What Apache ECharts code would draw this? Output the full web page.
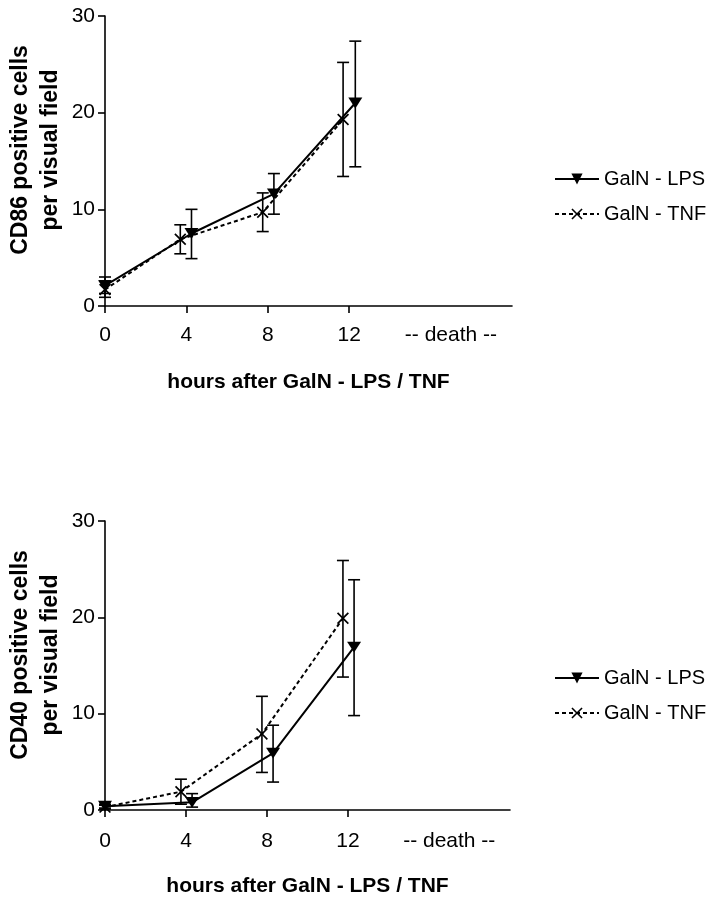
<!DOCTYPE html>
<html>
<head>
<meta charset="utf-8">
<script src="https://cdn.jsdelivr.net/npm/echarts@6/dist/echarts.min.js"></script>
<style>
html,body{margin:0;padding:0;background:#fff;}
#c{width:711px;height:900px;}
</style>
</head>
<body>
<div id="c"></div>
<script>
// ---- data ----
const xTicks = [0, 4, 8, 12];
const deathPos = 17;
const seriesNames = ['GalN - LPS', 'GalN - TNF'];

// Top panel: CD86
const cd86LpsX  = [0, 4.25, 8.3, 12.3];
const cd86LpsY  = [2.1, 7.5, 11.6, 21.0];
const cd86LpsLo = [1.3, 4.9, 9.5, 14.4];
const cd86LpsHi = [3.0, 10.0, 13.7, 27.4];
const cd86TnfX  = [0, 3.7, 7.75, 11.7];
const cd86TnfY  = [1.7, 6.9, 9.7, 19.3];
const cd86TnfLo = [0.9, 5.4, 7.7, 13.4];
const cd86TnfHi = [2.6, 8.4, 11.7, 25.2];

// Bottom panel: CD40
const cd40LpsX  = [0, 4.3, 8.3, 12.3];
const cd40LpsY  = [0.4, 0.8, 5.9, 16.9];
const cd40LpsLo = [0.2, 0.3, 2.9, 9.8];
const cd40LpsHi = [0.6, 1.7, 8.8, 23.9];
const cd40TnfX  = [0, 3.75, 7.75, 11.75];
const cd40TnfY  = [0.3, 1.9, 7.9, 19.9];
const cd40TnfLo = [0.1, 0.6, 3.9, 13.8];
const cd40TnfHi = [0.5, 3.2, 11.8, 25.9];

const yTitles = ['CD86 positive cells\nper visual field', 'CD40 positive cells\nper visual field'];
const xTitle = 'hours after GalN - LPS / TNF';
const deathLabel = '-- death --';

// ---- chart ----
const FONT = "'Liberation Sans', Arial, Helvetica, sans-serif";
const triDown = 'path://M0,0 L10,0 L5,9 Z';
const xMark = 'path://M0,1 L1,0 L5,4 L9,0 L10,1 L6,5 L10,9 L9,10 L5,6 L1,10 L0,9 L4,5 Z';

function pairs(xs, ys) { return xs.map((x, i) => [x, ys[i]]); }
function triples(xs, lo, hi) { return xs.map((x, i) => [x, lo[i], hi[i]]); }

function errRender(params, api) {
  const x = api.value(0);
  const lo = api.coord([x, api.value(1)]);
  const hi = api.coord([x, api.value(2)]);
  const w = 6;
  const st = { stroke: '#000', lineWidth: 1.6 };
  return {
    type: 'group',
    children: [
      { type: 'line', shape: { x1: lo[0], y1: lo[1], x2: hi[0], y2: hi[1] }, style: st },
      { type: 'line', shape: { x1: lo[0] - w, y1: lo[1], x2: lo[0] + w, y2: lo[1] }, style: st },
      { type: 'line', shape: { x1: hi[0] - w, y1: hi[1], x2: hi[0] + w, y2: hi[1] }, style: st }
    ]
  };
}

function xAxisDef(gi, labelMargin) {
  return {
    gridIndex: gi, type: 'value', min: 0, max: 20,
    axisLine: { show: true, onZero: false, lineStyle: { color: '#000', width: 1.6 } },
    axisTick: { show: true, customValues: xTicks, length: 7, lineStyle: { color: '#000', width: 1.6 } },
    axisLabel: {
      customValues: xTicks.concat([deathPos]),
      formatter: v => (v === deathPos ? deathLabel : String(v)),
      color: '#000', fontSize: 21, fontFamily: FONT, margin: labelMargin
    },
    splitLine: { show: false },
    name: xTitle, nameLocation: 'middle', nameGap: 66,
    nameTextStyle: { color: '#000', fontSize: 21, fontWeight: 'bold', fontFamily: FONT }
  };
}
function yAxisDef(gi) {
  return {
    gridIndex: gi, type: 'value', min: 0, max: 30, interval: 10,
    axisLine: { show: true, lineStyle: { color: '#000', width: 1.6 } },
    axisTick: { show: true, length: 7, lineStyle: { color: '#000', width: 1.6 } },
    axisLabel: { color: '#000', fontSize: 21, fontFamily: FONT, margin: 10 },
    splitLine: { show: false }
  };
}

function lineSeries(name, gi, xs, ys, tnf) {
  return {
    name: name, type: 'line', xAxisIndex: gi, yAxisIndex: gi,
    data: pairs(xs, ys),
    symbol: tnf ? xMark : triDown,
    symbolSize: tnf ? [12, 12] : [14, 12],
    symbolKeepAspect: true,
    lineStyle: { color: '#000', width: 2, type: tnf ? [4, 3] : 'solid' },
    itemStyle: { color: '#000' },
    z: 3, animation: false
  };
}
function errSeries(name, gi, xs, lo, hi) {
  return {
    name: name + ' error', type: 'custom', xAxisIndex: gi, yAxisIndex: gi,
    data: triples(xs, lo, hi), renderItem: errRender,
    encode: { x: 0, y: [1, 2] }, z: 2, animation: false, silent: true
  };
}

function legendDef(top) {
  return {
    left: 549, top: top, orient: 'vertical',
    itemWidth: 44, itemHeight: 14, itemGap: 13,
    data: seriesNames,
    textStyle: { color: '#000', fontSize: 20, fontFamily: FONT, lineHeight: 22 },
    selectedMode: false
  };
}

const chart = echarts.init(document.getElementById('c'), null, { renderer: 'canvas' });
chart.setOption({
  backgroundColor: '#fff',
  animation: false,
  grid: [
    { left: 105, top: 16, width: 407, height: 290 },
    { left: 105, top: 521, width: 405, height: 289 }
  ],
  xAxis: [xAxisDef(0, 19), xAxisDef(1, 21)],
  yAxis: [yAxisDef(0), yAxisDef(1)],
  legend: [legendDef(163), legendDef(662)],
  graphic: [
    { type: 'text', x: 36, y: 150, rotation: Math.PI / 2,
      style: { text: yTitles[0], font: 'bold 23px ' + FONT, fill: '#000', align: 'center', verticalAlign: 'middle', lineHeight: 30 } },
    { type: 'text', x: 36, y: 655, rotation: Math.PI / 2,
      style: { text: yTitles[1], font: 'bold 23px ' + FONT, fill: '#000', align: 'center', verticalAlign: 'middle', lineHeight: 30 } }
  ],
  series: [
    errSeries(seriesNames[0], 0, cd86LpsX, cd86LpsLo, cd86LpsHi),
    errSeries(seriesNames[1], 0, cd86TnfX, cd86TnfLo, cd86TnfHi),
    lineSeries(seriesNames[0], 0, cd86LpsX, cd86LpsY, false),
    lineSeries(seriesNames[1], 0, cd86TnfX, cd86TnfY, true),
    errSeries(seriesNames[0], 1, cd40LpsX, cd40LpsLo, cd40LpsHi),
    errSeries(seriesNames[1], 1, cd40TnfX, cd40TnfLo, cd40TnfHi),
    lineSeries(seriesNames[0], 1, cd40LpsX, cd40LpsY, false),
    lineSeries(seriesNames[1], 1, cd40TnfX, cd40TnfY, true)
  ]
});
</script>
</body>
</html>
